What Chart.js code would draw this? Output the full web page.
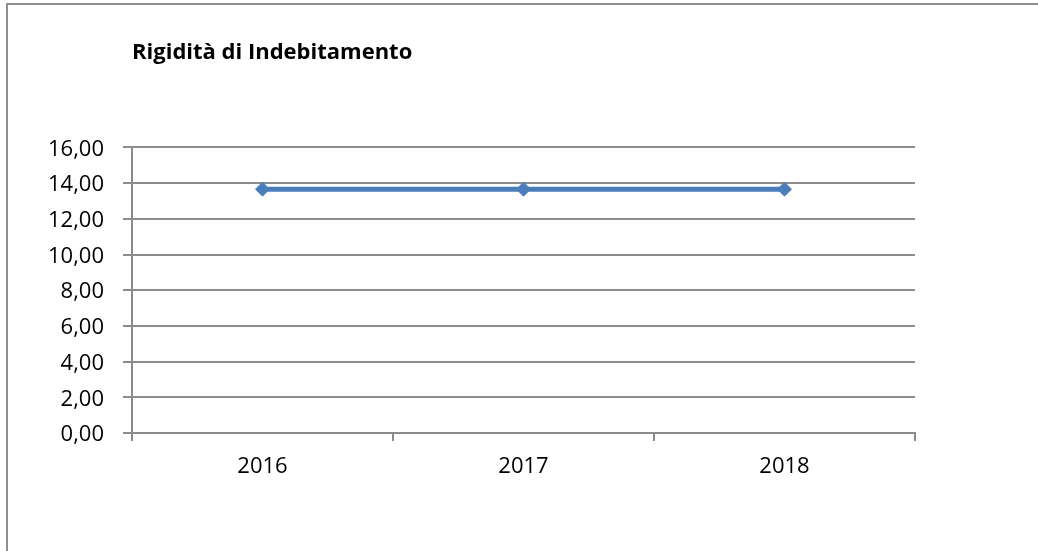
<!DOCTYPE html>
<html>
<head>
<meta charset="utf-8">
<script src="https://cdn.jsdelivr.net/npm/chart.js@4/dist/chart.umd.min.js"></script>
<style>
    body { margin: 0; background: #ffffff; overflow: hidden; }
    #wrap { position: relative; width: 1038px; height: 551px; }
    #frame { position: absolute; left: 6px; top: 3px; width: 1100px; height: 600px; border: 2px solid #8e8e8e; }
    #chart { position: absolute; left: 0; top: 0; }
</style>
</head>
<body>
<div id="wrap">
    <div id="frame"></div>
    <canvas id="chart" width="1038" height="551"></canvas>
</div>
<script>
const years = ['2016', '2017', '2018'];
const rigidita = [13.66, 13.66, 13.66];
const yTickLabels = ['0,00', '2,00', '4,00', '6,00', '8,00', '10,00', '12,00', '14,00', '16,00'];

const gridColor = '#8c8c8c';
const lineColor = '#4a7ebb';

function getLineChart() {
    const ctx = document.getElementById('chart').getContext('2d');
    return new Chart(ctx, {
        type: 'line',
        data: {
            labels: years,
            datasets: [{
                label: 'Rigidità di Indebitamento',
                data: rigidita,
                borderColor: lineColor,
                backgroundColor: lineColor,
                borderWidth: 5,
                tension: 0,
                pointStyle: 'rectRot',
                pointRadius: 7,
                pointBorderWidth: 1,
                pointHoverRadius: 7
            }]
        },
        options: {
            responsive: false,
            animation: false,
            layout: {
                padding: { left: 0, right: 123, top: 0, bottom: 0 }
            },
            plugins: {
                legend: { display: false },
                tooltip: { enabled: false },
                title: {
                    display: true,
                    text: 'Rigidità di Indebitamento',
                    align: 'start',
                    fullSize: false,
                    color: '#000000',
                    font: { family: 'Open Sans', size: 22, weight: 'bold', lineHeight: 1.2 },
                    padding: { top: 40, bottom: 81 }
                }
            },
            scales: {
                x: {
                    offset: true,
                    afterFit: s => { s.height = 118; },
                    border: { display: true, color: gridColor, width: 2 },
                    grid: {
                        offset: true,
                        drawOnChartArea: false,
                        drawTicks: true,
                        tickLength: 8,
                        color: gridColor,
                        lineWidth: 2
                    },
                    ticks: {
                        color: '#000000',
                        padding: 13,
                        maxRotation: 0,
                        font: { family: 'Open Sans', size: 22 }
                    }
                },
                y: {
                    min: 0,
                    max: 16,
                    afterFit: s => { s.width = 132; },
                    border: { display: true, color: gridColor, width: 2 },
                    grid: {
                        color: gridColor,
                        lineWidth: 2,
                        drawTicks: true,
                        tickLength: 9
                    },
                    ticks: {
                        stepSize: 2,
                        color: '#000000',
                        padding: 19,
                        labelOffset: 2,
                        font: { family: 'Open Sans', size: 22 },
                        callback: (value, i) => yTickLabels[i]
                    }
                }
            }
        }
    });
}

getLineChart();
</script>
</body>
</html>
